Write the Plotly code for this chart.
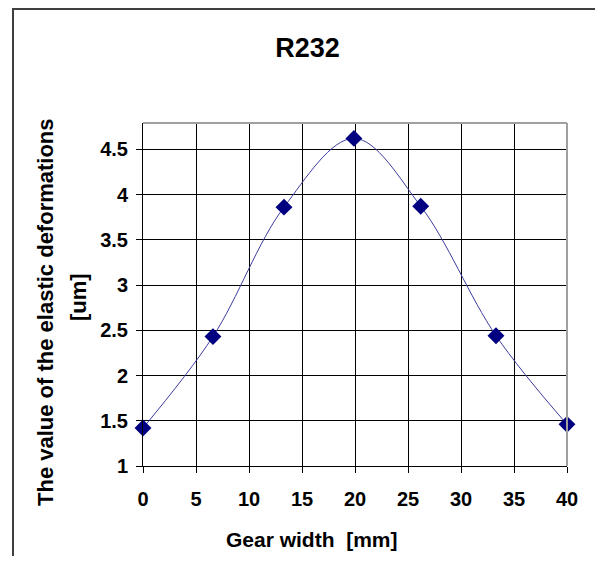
import plotly.graph_objects as go

gear_width = [0, 6.6, 13.3, 19.9, 26.2, 33.3, 40]
deformation = [1.42, 2.43, 3.86, 4.62, 3.87, 2.44, 1.46]
x_ticks = [0, 5, 10, 15, 20, 25, 30, 35, 40]
y_ticks = [1, 1.5, 2, 2.5, 3, 3.5, 4, 4.5]
y_tick_text = ["1", "1.5", "2", "2.5", "3", "3.5", "4", "4.5"]

OFF = 8  # default page body margin
W, H = 603 - OFF, 564 - 2 * OFF
L, R, T = 143 - OFF, 36, 123 - OFF
B = H - (466 - OFF)
PW, PH = W - L - R, H - T - B

def px(x):
    return (x - OFF - L) / PW

def py(y):
    return (H - B - (y - OFF)) / PH

FONT = "Liberation Sans"

fig = go.Figure()
fig.add_trace(go.Scatter(
    x=gear_width, y=deformation, mode="lines+markers",
    line=dict(color="#3c3c9e", width=1, shape="spline", smoothing=1),
    marker=dict(symbol="diamond", size=13, color="#000080"),
    cliponaxis=False, showlegend=False,
))

fig.update_layout(
    width=W, height=H,
    margin=dict(l=L, r=R, t=T, b=B, pad=0),
    paper_bgcolor="white", plot_bgcolor="white",
    font=dict(family=FONT, color="black"),
    title=dict(text="<b>R232</b>", x=(307.5 - OFF) / W, xanchor="center",
               y=1 - (48 - OFF) / H, yanchor="middle", font=dict(size=27, family=FONT)),
)
fig.update_xaxes(
    range=[0, 40], tickvals=x_ticks, ticktext=["<b>%d</b>" % v for v in x_ticks],
    ticks="outside", ticklen=6, tickcolor="black",
    showgrid=True, gridcolor="black", gridwidth=1,
    showline=True, linecolor="black", linewidth=1, zeroline=False,
    tickfont=dict(size=20, family=FONT), ticklabelstandoff=9,
)
fig.update_yaxes(
    range=[1, 4.79], tickvals=y_ticks, ticktext=["<b>%s</b>" % t for t in y_tick_text],
    ticks="outside", ticklen=6, tickcolor="black",
    showgrid=True, gridcolor="black", gridwidth=1,
    showline=True, linecolor="black", linewidth=1, zeroline=False,
    tickfont=dict(size=20, family=FONT), ticklabelstandoff=4,
)

# plot-area top/right border (gray)
fig.add_shape(type="line", xref="paper", yref="paper", x0=0, x1=1, y0=1, y1=1,
              line=dict(color="#a0a0a0", width=2), layer="above")
fig.add_shape(type="line", xref="paper", yref="paper", x0=1, x1=1, y0=0, y1=1,
              line=dict(color="#a0a0a0", width=2), layer="above")
# outer chart frame
fig.add_shape(type="rect", xref="paper", yref="paper",
              x0=px(13), x1=px(597), y0=py(600), y1=py(9),
              line=dict(color="#404040", width=2), fillcolor="rgba(0,0,0,0)", layer="below")

fig.add_annotation(text="<b>Gear width  [mm]</b>", xref="paper", yref="paper",
                   x=px(312), y=py(539), showarrow=False, font=dict(size=21, family=FONT),
                   xanchor="center", yanchor="middle")
fig.add_annotation(text="<b>The value of the elastic deformations</b>", xref="paper", yref="paper",
                   x=px(45), y=py(312), showarrow=False, textangle=-90,
                   font=dict(size=22, family=FONT), xanchor="center", yanchor="middle")
fig.add_annotation(text="<b>[um]</b>", xref="paper", yref="paper",
                   x=px(78), y=py(297), showarrow=False, textangle=-90,
                   font=dict(size=22, family=FONT), xanchor="center", yanchor="middle")

fig.write_html("out.html")
